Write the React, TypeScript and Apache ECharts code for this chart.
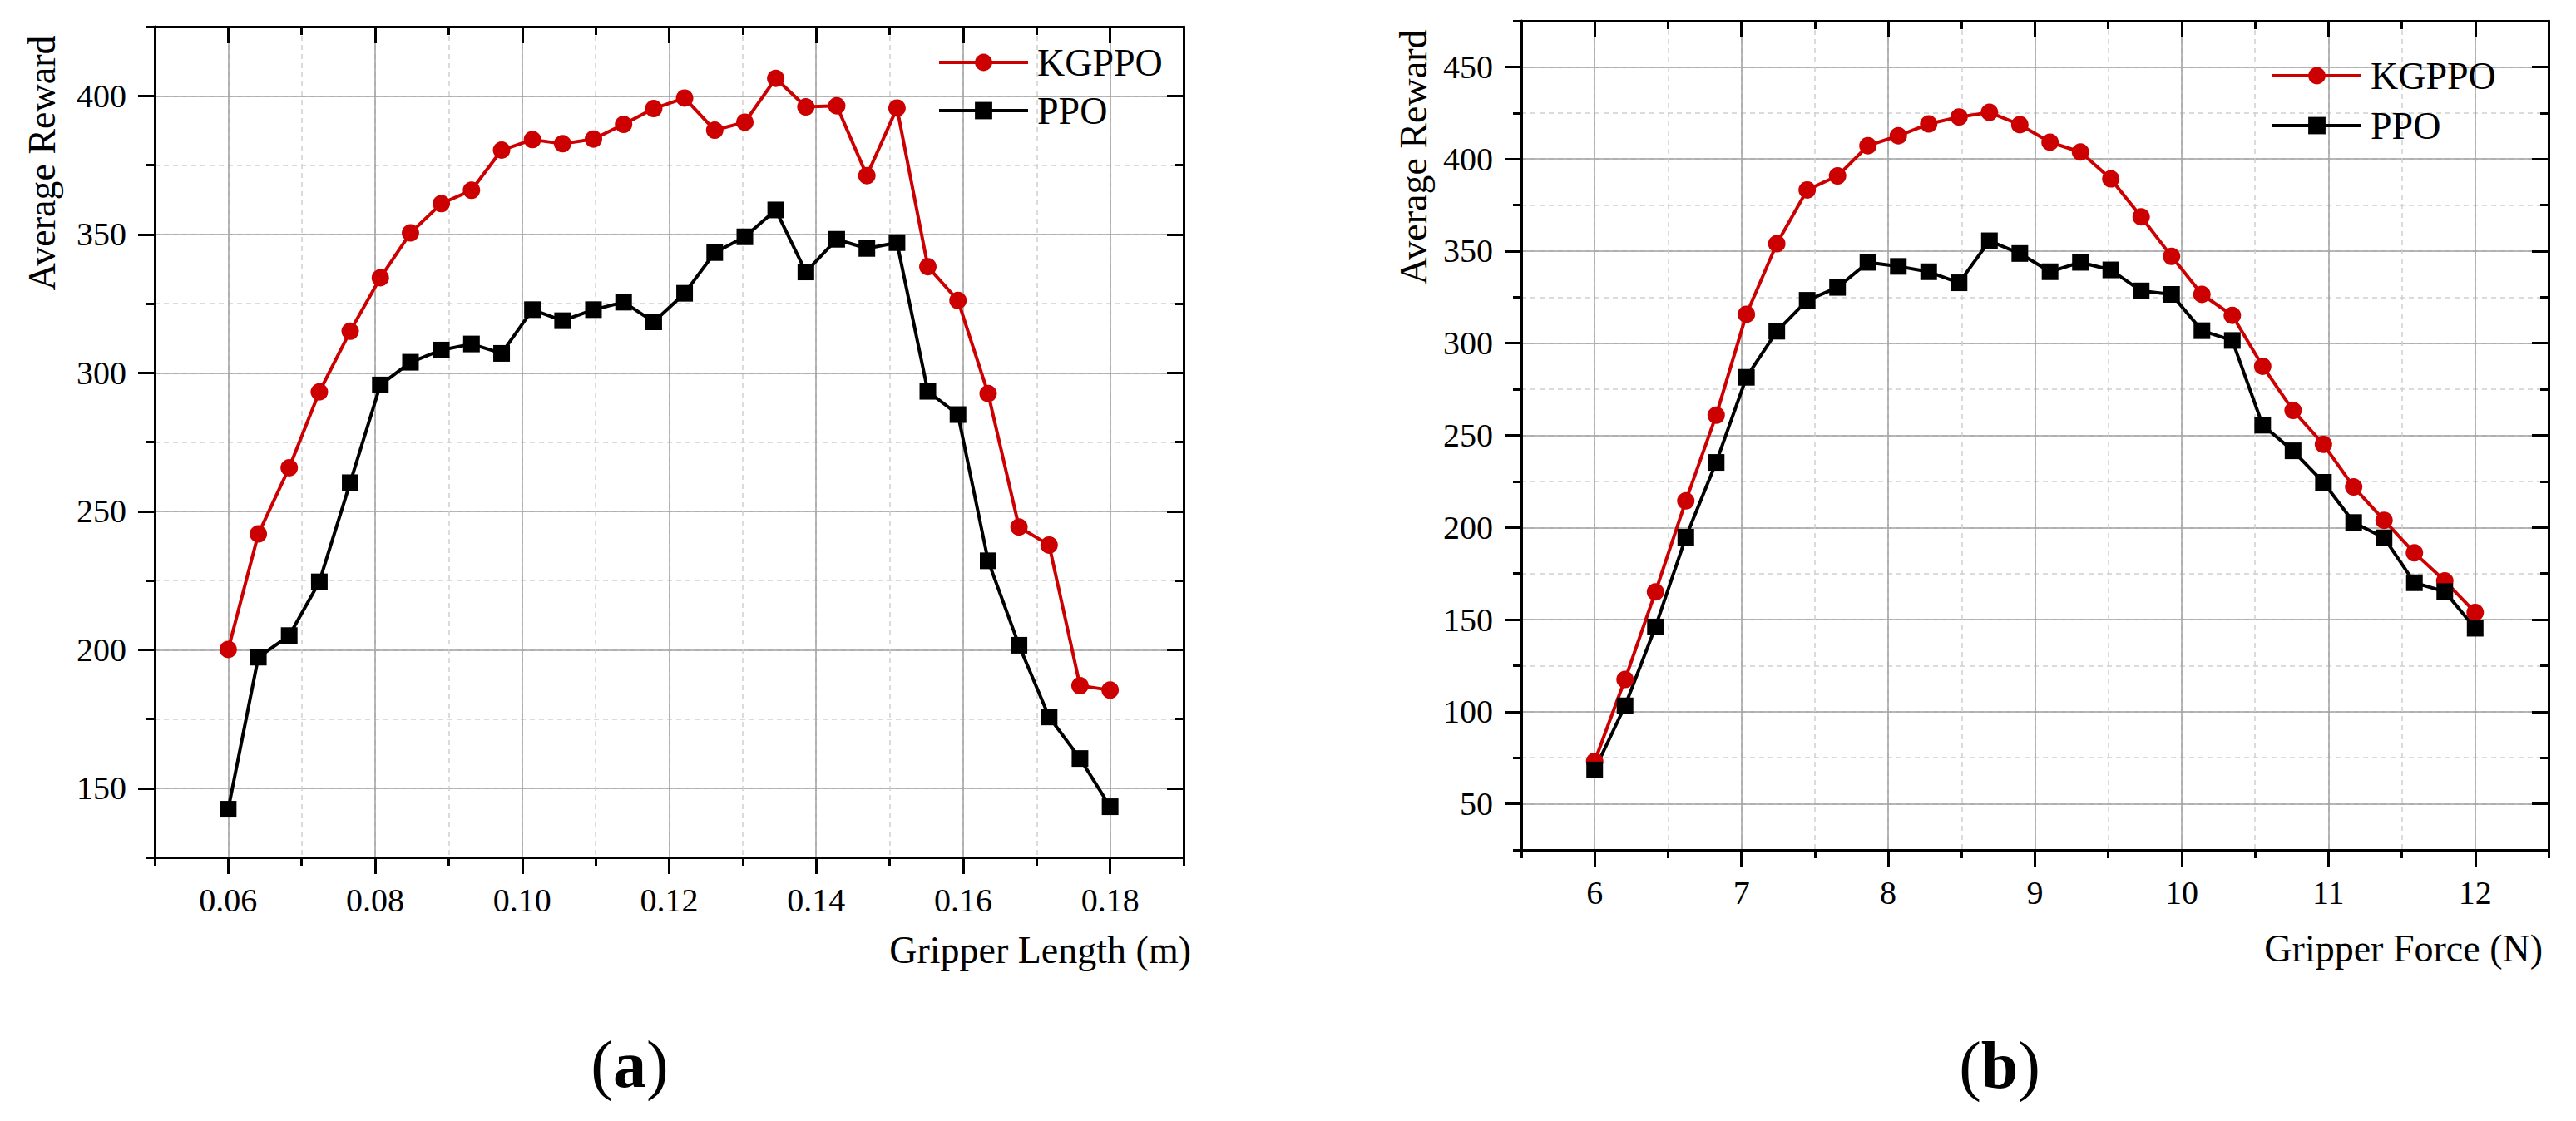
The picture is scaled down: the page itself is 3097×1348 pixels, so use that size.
import React, { useEffect, useRef } from 'react';
import * as echarts from 'echarts';

const FONT = 'Liberation Serif';
const seriesNames = ['KGPPO', 'PPO'];
const seriesColors = ['#cc0000', '#000000'];

// (a) Gripper Length
const lengthX = [0.06, 0.0641, 0.0683, 0.0724, 0.0766, 0.0807, 0.0848, 0.089, 0.0931, 0.0972,
  0.1014, 0.1055, 0.1097, 0.1138, 0.1179, 0.1221, 0.1262, 0.1303, 0.1345, 0.1386,
  0.1428, 0.1469, 0.151, 0.1552, 0.1593, 0.1634, 0.1676, 0.1717, 0.1759, 0.18];
const lengthKGPPO = [200.1, 241.8, 265.7, 293.1, 315.0, 334.3, 350.5, 361.1, 365.9, 380.4,
  384.2, 382.7, 384.4, 389.7, 395.4, 399.2, 387.6, 390.5, 406.3, 396.0,
  396.4, 371.2, 395.6, 338.3, 326.1, 292.5, 244.3, 237.8, 187.0, 185.4];
const lengthPPO = [142.4, 197.3, 205.1, 224.5, 260.3, 295.6, 303.8, 308.2, 310.4, 307.0,
  322.8, 318.8, 322.8, 325.5, 318.4, 328.7, 343.4, 349.1, 358.8, 336.4,
  348.2, 344.9, 347.0, 293.3, 284.9, 232.1, 201.6, 175.7, 160.7, 143.3];

// (b) Gripper Force
const forceX = [6.0, 6.207, 6.414, 6.621, 6.828, 7.034, 7.241, 7.448, 7.655, 7.862,
  8.069, 8.276, 8.483, 8.69, 8.897, 9.103, 9.31, 9.517, 9.724, 9.931,
  10.138, 10.345, 10.552, 10.759, 10.966, 11.172, 11.379, 11.586, 11.793, 12.0];
const forceKGPPO = [73.1, 117.5, 165.0, 214.4, 260.9, 315.7, 354.0, 383.2, 390.8, 407.2,
  412.6, 419.0, 422.8, 425.3, 418.6, 409.1, 403.8, 389.2, 368.6, 347.1,
  326.5, 315.1, 287.5, 263.5, 245.1, 222.0, 203.9, 186.2, 171.0, 153.9];
const forcePPO = [68.4, 103.2, 146.0, 194.7, 235.3, 281.5, 306.5, 323.3, 330.3, 343.9,
  341.7, 338.8, 332.8, 355.6, 348.7, 338.8, 343.9, 339.8, 328.4, 326.5,
  306.8, 301.5, 255.5, 241.6, 224.5, 202.7, 194.4, 170.0, 165.2, 145.3];

// Tick lists (every minor step; labels on odd positions)
const lengthTicks = ['0.05', '0.06', '0.07', '0.08', '0.09', '0.10', '0.11', '0.12', '0.13', '0.14', '0.15', '0.16', '0.17', '0.18', '0.19'];
const lengthRewardTicks = ['125', '150', '175', '200', '225', '250', '275', '300', '325', '350', '375', '400', '425'];
const forceTicks = ['5.5', '6', '6.5', '7', '7.5', '8', '8.5', '9', '9.5', '10', '10.5', '11', '11.5', '12', '12.5'];
const forceRewardTicks = ['25', '50', '75', '100', '125', '150', '175', '200', '225', '250', '275', '300', '325', '350', '375', '400', '425', '450', '475'];

const xTitles = ['Gripper Length (m)', 'Gripper Force (N)'];
const yTitle = 'Average Reward';
const panelLabels = ['a', 'b'];

const isMajor = (i: number) => i % 2 === 1;

function valueAxis(gridIndex: number, ticks: string[], pos: string, withGrid: boolean) {
  const min = parseFloat(ticks[0]);
  const max = parseFloat(ticks[ticks.length - 1]);
  const step = parseFloat(ticks[1]) - min;
  return {
    type: 'value', gridIndex, position: pos, min, max, interval: Math.round(step * 1e6) / 1e6,
    axisLine: { show: true, onZero: false, lineStyle: { color: '#000', width: 3 } },
    axisTick: { show: true, inside: pos === 'top' || pos === 'right', length: 10, lineStyle: { color: '#000', width: 3 } },
    axisLabel: { show: false },
    splitLine: withGrid
      ? { show: true, lineStyle: { color: '#cfcfcf', width: 1.5, type: [6, 5] } }
      : { show: false },
  };
}

function catAxis(gridIndex: number, ticks: string[], pos: string, withLabels: boolean, isX: boolean) {
  return {
    type: 'category', gridIndex, position: pos, data: ticks, boundaryGap: false,
    axisLine: { show: false, onZero: false },
    axisTick: { show: true, inside: pos === 'top' || pos === 'right', length: 20, interval: (i: number) => isMajor(i), lineStyle: { color: '#000', width: 3 } },
    axisLabel: withLabels
      ? { show: true, interval: (i: number) => isMajor(i), color: '#000', fontFamily: FONT, fontSize: 40, margin: isX ? 31 : 34 }
      : { show: false },
    splitLine: withLabels
      ? { show: true, interval: (i: number) => isMajor(i), lineStyle: { color: '#a0a0a0', width: 1.5 } }
      : { show: false },
  };
}

function lineSeries(name: string, color: string, xs: number[], ys: number[], axisIndex: number) {
  const isCircle = name === 'KGPPO';
  return {
    type: 'line', name, xAxisIndex: axisIndex, yAxisIndex: axisIndex,
    data: xs.map((x, i) => [x, ys[i]]),
    symbol: isCircle ? 'circle' : 'rect', symbolSize: isCircle ? 21 : 20,
    itemStyle: { color }, lineStyle: { color, width: 4 },
  };
}

function panelLabel(letter: string, x: number, y: number) {
  return {
    type: 'text', x, y,
    style: {
      text: `{n|(}{b|${letter}}{n|)}`,
      rich: {
        n: { fontFamily: FONT, fontSize: 80, fill: '#000', color: '#000' },
        b: { fontFamily: FONT, fontSize: 80, fontWeight: 'bold', fill: '#000', color: '#000' },
      },
      align: 'center', verticalAlign: 'middle', textAlign: 'center', textVerticalAlign: 'middle',
    },
  };
}

function titleText(text: string, x: number, y: number, align: string, rotation = 0) {
  return {
    type: 'text', x, y, rotation,
    style: {
      text, fontFamily: FONT, fontSize: 46, fill: '#000',
      align, verticalAlign: 'middle', textAlign: align, textVerticalAlign: 'middle',
    },
  };
}

function legendAt(left: number, top: number, gap: number) {
  return {
    data: seriesNames, orient: 'vertical', left, top, itemWidth: 107, itemHeight: 26, itemGap: gap,
    lineStyle: { width: 4 },
    textStyle: { fontFamily: FONT, fontSize: 46, color: '#000', padding: [0, 0, 0, 6] },
  };
}

export default function App() {
  const ref = useRef<HTMLDivElement>(null);
  useEffect(() => {
    if (!ref.current) return;
    const chart = echarts.init(ref.current, undefined, { renderer: 'svg' });
    const option = {
      animation: false,
      backgroundColor: '#fff',
      textStyle: { fontFamily: FONT },
      grid: [
        { left: 186, top: 32, width: 1237, height: 999 },
        { left: 1829, top: 25, width: 1235, height: 997 },
      ],
      xAxis: [
        valueAxis(0, lengthTicks, 'bottom', true),
        catAxis(0, lengthTicks, 'bottom', true, true),
        valueAxis(0, lengthTicks, 'top', false),
        catAxis(0, lengthTicks, 'top', false, true),
        valueAxis(1, forceTicks, 'bottom', true),
        catAxis(1, forceTicks, 'bottom', true, true),
        valueAxis(1, forceTicks, 'top', false),
        catAxis(1, forceTicks, 'top', false, true),
      ],
      yAxis: [
        valueAxis(0, lengthRewardTicks, 'left', true),
        catAxis(0, lengthRewardTicks, 'left', true, false),
        valueAxis(0, lengthRewardTicks, 'right', false),
        catAxis(0, lengthRewardTicks, 'right', false, false),
        valueAxis(1, forceRewardTicks, 'left', true),
        catAxis(1, forceRewardTicks, 'left', true, false),
        valueAxis(1, forceRewardTicks, 'right', false),
        catAxis(1, forceRewardTicks, 'right', false, false),
      ],
      legend: [legendAt(1122, 47, 12), legendAt(2725, 63, 14)],
      series: [
        lineSeries(seriesNames[0], seriesColors[0], lengthX, lengthKGPPO, 0),
        lineSeries(seriesNames[1], seriesColors[1], lengthX, lengthPPO, 0),
        lineSeries(seriesNames[0], seriesColors[0], forceX, forceKGPPO, 4),
        lineSeries(seriesNames[1], seriesColors[1], forceX, forcePPO, 4),
      ],
      graphic: [
        titleText(yTitle, 50, 196, 'center', Math.PI / 2),
        titleText(yTitle, 1699, 189, 'center', Math.PI / 2),
        titleText(xTitles[0], 1432, 1142, 'right'),
        titleText(xTitles[1], 3057, 1140, 'right'),
        panelLabel(panelLabels[0], 757, 1280),
        panelLabel(panelLabels[1], 2404, 1281),
      ],
    };
    chart.setOption(option as any);
    return () => chart.dispose();
  }, []);
  return (
    <div
      ref={ref}
      style={{ position: 'absolute', left: 0, top: 0, width: 3097, height: 1348, background: '#fff' }}
    />
  );
}
